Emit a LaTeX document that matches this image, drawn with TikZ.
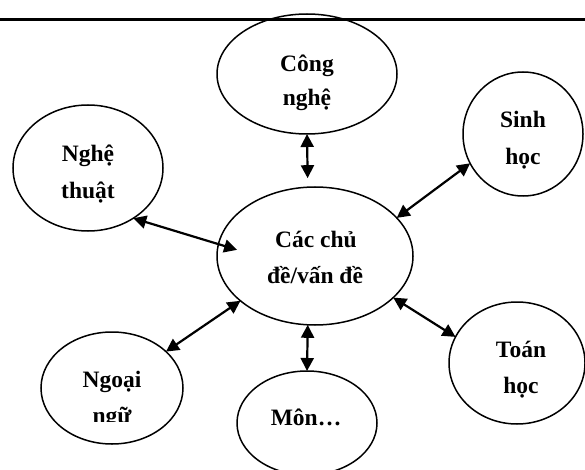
\documentclass[tikz,border=0pt]{standalone}
\usepackage{fontspec}
\setmainfont{Liberation Serif}
\usetikzlibrary{shapes.geometric,arrows.meta}
\tikzset{
  bub/.style={draw, ellipse, line width=1.5pt, inner sep=0pt, outer sep=0pt},
  txt/.style={anchor=base, inner sep=0pt, font=\fontsize{23.5}{23.5}\selectfont\bfseries},
  link/.style={line width=2.2pt, {Triangle[length=13pt,width=13pt]}-{Triangle[length=13pt,width=13pt]}},
}
\begin{document}
\begin{tikzpicture}[x=1pt,y=-1pt]
\useasboundingbox (0,0) rectangle (585,470);
\clip (0,0) rectangle (585,470);
\fill[white] (0,0) rectangle (585,470);
% header rule
\draw[line width=3pt] (0,19.5) -- (585,19.5);
% bubbles
\node[bub, minimum width=180pt, minimum height=120pt] (cong) at (307,74) {};
\node[bub, minimum width=150pt, minimum height=126pt] (nghe) at (88,168) {};
\node[bub, minimum width=120pt, minimum height=124pt] (sinh) at (523,134) {};
\node[bub, minimum width=196pt, minimum height=138pt] (center) at (315,256) {};
\node[bub, minimum width=142pt, minimum height=112pt] (ngoai) at (112,388) {};
\node[bub, minimum width=140pt, minimum height=104pt] (mon) at (307,423) {};
\node[bub, minimum width=136pt, minimum height=122pt] (toan) at (517,363) {};
% texts
\node[txt] (t1a) at (307,72) {Công};
\node[txt] (t1b) at (307,106) {nghệ};
\node[txt] (t2a) at (88,162) {Nghệ};
\node[txt] (t2b) at (88,198) {thuật};
\node[txt] (t3a) at (523,128) {Sinh};
\node[txt] (t3b) at (523,165) {học};
\node[txt] (t4a) at (316,247) {Các chủ};
\node[txt] (t4b) at (315,283) {đề/vấn đề};
\node[txt] (t5a) at (112,387) {Ngoại};
\begin{scope}
\clip (0,0) rectangle (585,421);
\node[txt] (t5b) at (112,423) {ngữ};
\end{scope}
\node[txt] (t6a) at (306,425) {Môn…};
\node[txt] (t7a) at (521,357) {Toán};
\node[txt] (t7b) at (521,393) {học};
% connectors
\draw[link, shorten >=9pt] (cong.south) -- (center.96.6);
\draw[link, shorten >=-19.5pt] (nghe.-48) -- (center.173);
\draw[link] (sinh.209) -- (center.25.4);
\draw[link] (ngoai.34.7) -- (center.211.8);
\draw[link] (center.-96.6) -- (mon.north);
\draw[link] (center.-28.3) -- (toan.157.2);
\end{tikzpicture}
\end{document}
